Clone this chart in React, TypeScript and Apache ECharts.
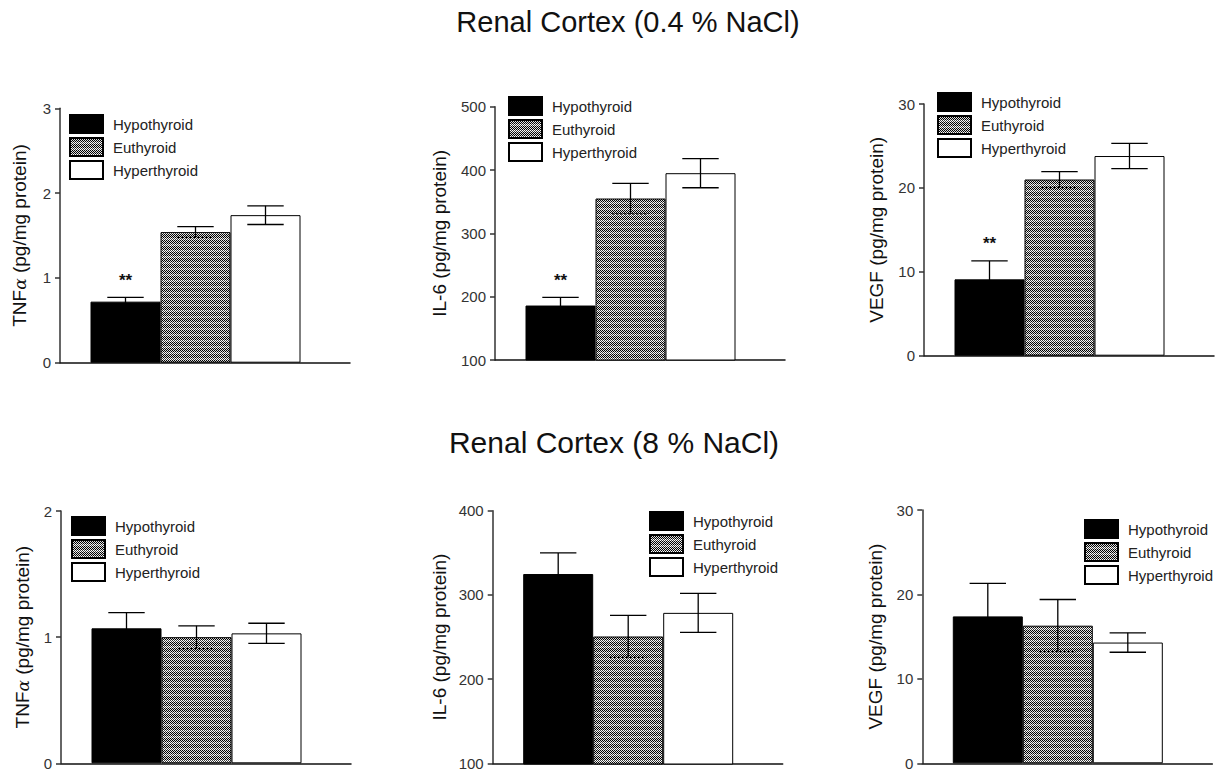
import React, { useEffect, useRef } from "react";
import * as echarts from "echarts";

// ---------- data ----------
const groups = ["Hypothyroid", "Euthyroid", "Hyperthyroid"];
const category = ["Renal Cortex"];

const tnfLowSaltMean = [0.72, 1.54, 1.74];
const tnfLowSaltSem = [0.05, 0.065, 0.11];
const il6LowSaltMean = [186, 355, 395];
const il6LowSaltSem = [13, 24, 23];
const vegfLowSaltMean = [9.1, 21.0, 23.8];
const vegfLowSaltSem = [2.2, 0.95, 1.5];
const sigLowSalt = ["**", "", ""];

const tnfHighSaltMean = [1.07, 1.0, 1.03];
const tnfHighSaltSem = [0.125, 0.09, 0.08];
const il6HighSaltMean = [325, 251, 279];
const il6HighSaltSem = [25, 25, 23];
const vegfHighSaltMean = [17.4, 16.3, 14.3];
const vegfHighSaltSem = [3.9, 3.1, 1.15];
const sigHighSalt = ["", "", ""];

const titles = ["Renal Cortex (0.4 % NaCl)", "Renal Cortex (8 % NaCl)"];
const yNames = ["TNF{a|α} (pg/mg protein)", "IL-6 (pg/mg protein)", "VEGF (pg/mg protein)"];
const tnfLowSaltTicks = [0, 3, 1];
const il6LowSaltTicks = [100, 500, 100];
const vegfLowSaltTicks = [0, 30, 10];
const tnfHighSaltTicks = [0, 2, 1];
const il6HighSaltTicks = [100, 400, 100];
const vegfHighSaltTicks = [0, 30, 10];

// ---------- layout ----------
const FONT = '"Liberation Sans", Arial, sans-serif';
const panels = [
  { mean: tnfLowSaltMean, sem: tnfLowSaltSem, sig: sigLowSalt, ticks: tnfLowSaltTicks, name: yNames[0], axisX: 60, top: 108.3, bottom: 362.7, nameGap: 31, legend: [69, 114] },
  { mean: il6LowSaltMean, sem: il6LowSaltSem, sig: sigLowSalt, ticks: il6LowSaltTicks, name: yNames[1], axisX: 495, top: 106.7, bottom: 360, nameGap: 46, legend: [508, 96] },
  { mean: vegfLowSaltMean, sem: vegfLowSaltSem, sig: sigLowSalt, ticks: vegfLowSaltTicks, name: yNames[2], axisX: 924, top: 104, bottom: 355.7, nameGap: 38, legend: [937, 92] },
  { mean: tnfHighSaltMean, sem: tnfHighSaltSem, sig: sigHighSalt, ticks: tnfHighSaltTicks, name: yNames[0], axisX: 61, top: 511, bottom: 763.3, nameGap: 29, legend: [71, 516] },
  { mean: il6HighSaltMean, sem: il6HighSaltSem, sig: sigHighSalt, ticks: il6HighSaltTicks, name: yNames[1], axisX: 492.7, top: 510.7, bottom: 764, nameGap: 44, legend: [649, 511] },
  { mean: vegfHighSaltMean, sem: vegfHighSaltSem, sig: sigHighSalt, ticks: vegfHighSaltTicks, name: yNames[2], axisX: 922.3, top: 510, bottom: 763.3, nameGap: 37, legend: [1084, 519] },
];
const AXIS_LEN = 290;
const BAR_OFFSET = 30.5;
const BAND = 210;

function makePattern(): HTMLCanvasElement {
  const c = document.createElement("canvas");
  c.width = 4;
  c.height = 6;
  const ctx = c.getContext("2d")!;
  ctx.fillStyle = "#ffffff";
  ctx.fillRect(0, 0, 4, 6);
  for (let y = 0; y < 6; y++) {
    for (let x = 0; x < 4; x++) {
      if ((x + y) % 2 === 0) {
        ctx.fillStyle = y < 4 ? "#000000" : "#3a3a3a";
        ctx.fillRect(x, y, 1, 1);
      } else {
        ctx.fillStyle = y < 4 ? "#dddddd" : "#ffffff";
        ctx.fillRect(x, y, 1, 1);
      }
    }
  }
  return c;
}

export default function App() {
  const ref = useRef<HTMLDivElement>(null);

  useEffect(() => {
    if (!ref.current) return;
    const chart = echarts.init(ref.current, undefined, { renderer: "svg" });
    const pattern = makePattern();
    const fills: any[] = ["#000000", { image: pattern, repeat: "repeat" }, "#ffffff"];

    const grid: any[] = [];
    const xAxis: any[] = [];
    const yAxis: any[] = [];
    const series: any[] = [];
    const legend: any[] = [];

    panels.forEach((p, i) => {
      const height = p.bottom - p.top;
      const [min, max, interval] = p.ticks;
      // frame grid (axes)
      grid.push({ left: p.axisX, top: p.top, width: AXIS_LEN, height });
      xAxis.push({
        type: "category",
        gridIndex: 2 * i,
        data: [""],
        axisLine: { show: true, lineStyle: { color: "#111", width: 1.5 } },
        axisTick: { show: false },
        axisLabel: { show: false },
        splitLine: { show: false },
      });
      yAxis.push({
        type: "value",
        gridIndex: 2 * i,
        min,
        max,
        interval,
        axisLine: { show: true, lineStyle: { color: "#333", width: 1.5 } },
        axisTick: { show: true, inside: false, length: 5, lineStyle: { color: "#333", width: 1.5 } },
        axisLabel: { show: true, fontSize: 15, color: "#333", margin: 9, fontFamily: FONT },
        splitLine: { show: false },
        name: p.name,
        nameLocation: "middle",
        nameGap: p.nameGap,
        nameTextStyle: {
          fontSize: 19,
          color: "#111",
          fontFamily: FONT,
          rich: { a: { fontSize: 17, fontStyle: "italic", fontFamily: '"DejaVu Serif", serif', color: "#111" } },
        },
      });
      // bar grid
      grid.push({ left: p.axisX + BAR_OFFSET, top: p.top, width: BAND, height });
      xAxis.push({ type: "category", gridIndex: 2 * i + 1, data: category, show: false });
      yAxis.push({ type: "value", gridIndex: 2 * i + 1, min, max, interval, show: false });

      groups.forEach((g, k) => {
        series.push({
          type: "bar",
          name: g,
          xAxisIndex: 2 * i + 1,
          yAxisIndex: 2 * i + 1,
          data: [p.mean[k]],
          barGap: "0%",
          barCategoryGap: "0%",
          itemStyle: { color: fills[k], borderColor: "#000", borderWidth: 1 },
          emphasis: { disabled: true },
          silent: true,
          z: 2,
        });
      });

      series.push({
        type: "custom",
        xAxisIndex: 2 * i + 1,
        yAxisIndex: 2 * i + 1,
        data: groups.map((g, k) => [0, p.mean[k], p.sem[k], k, p.sig[k]]),
        encode: { x: 0, y: 1 },
        z: 5,
        silent: true,
        renderItem: (params: any, api: any) => {
          const mean = api.value(1);
          const sem = api.value(2);
          const k = api.value(3);
          const sig = p.sig[k];
          const band = api.size([1, 0])[0];
          const bw = band / 3;
          const center = api.coord([0, mean]);
          const cx = center[0] + (k - 1) * bw;
          const yHi = api.coord([0, mean + sem])[1];
          const yLo = api.coord([0, mean - sem])[1];
          const half = bw * 0.26;
          const stroke = { stroke: "#000", lineWidth: 1.3 };
          const children: any[] = [
            { type: "line", shape: { x1: cx, y1: yHi, x2: cx, y2: yLo }, style: stroke },
            { type: "line", shape: { x1: cx - half, y1: yHi, x2: cx + half, y2: yHi }, style: stroke },
            {
              type: "line",
              shape: { x1: cx - half, y1: yLo, x2: cx + half, y2: yLo },
              style: k === 1 ? { stroke: "#000", lineWidth: 1.5, lineDash: [2, 2] } : stroke,
            },
          ];
          if (sig) {
            children.push({
              type: "text",
              style: {
                text: sig,
                x: cx,
                y: yHi - 17,
                align: "center",
                verticalAlign: "middle",
                fontSize: 17,
                fontWeight: "bold",
                fontFamily: FONT,
                fill: "#111",
              },
            });
          }
          return { type: "group", children };
        },
      });

      legend.push({
        data: groups,
        orient: "vertical",
        left: p.legend[0],
        top: p.legend[1],
        padding: 0,
        itemWidth: 33,
        itemHeight: 18,
        itemGap: 3,
        icon: "rect",
        selectedMode: false,
        textStyle: { fontSize: 15, color: "#222", fontFamily: FONT, padding: [0, 0, 0, 5] },
      });
    });

    chart.setOption({
      animation: false,
      backgroundColor: "#ffffff",
      grid,
      xAxis,
      yAxis,
      series,
      legend,
      graphic: [
        {
          type: "text",
          x: 628,
          y: 22,
          style: { text: titles[0], align: "center", verticalAlign: "middle", fontSize: 29, fontFamily: FONT, fill: "#111" },
        },
        {
          type: "text",
          x: 614,
          y: 442,
          style: { text: titles[1], align: "center", verticalAlign: "middle", fontSize: 30, fontFamily: FONT, fill: "#111" },
        },
      ],
    });

    return () => chart.dispose();
  }, []);

  return (
    <div
      ref={ref}
      style={{ position: "absolute", left: 0, top: 0, width: 1220, height: 771, background: "#fff" }}
    />
  );
}
